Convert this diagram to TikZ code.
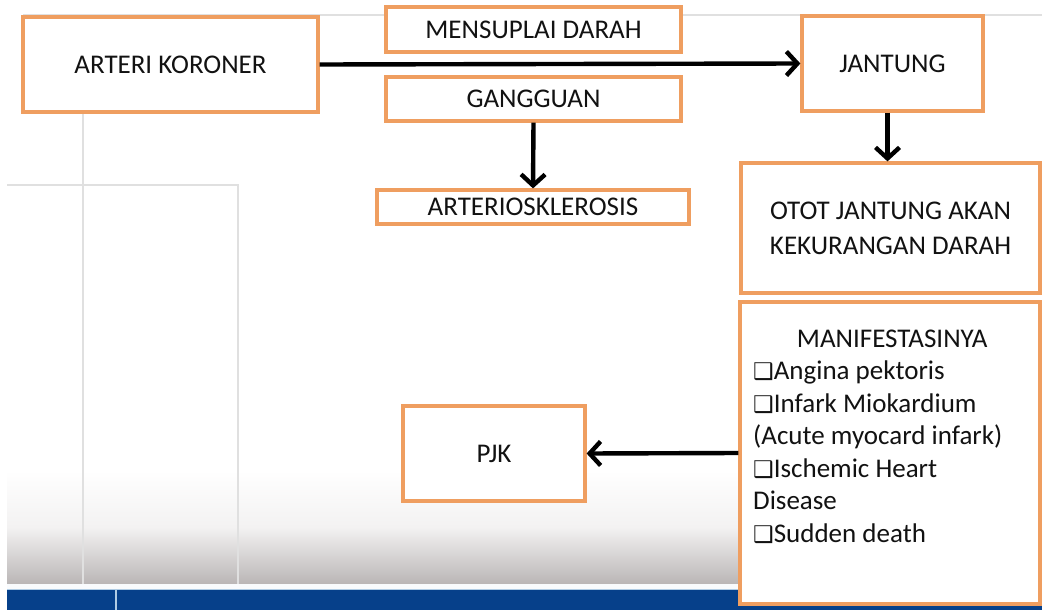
\documentclass[tikz,border=0pt]{standalone}
\usepackage{fontspec}
\setmainfont{Carlito}
\newfontfamily\symfont{DejaVu Sans}
\usetikzlibrary{arrows.meta}
\definecolor{boxorange}{RGB}{239,158,96}
\definecolor{textdark}{RGB}{18,18,18}
\definecolor{bgline}{RGB}{224,224,224}
\definecolor{barblue}{RGB}{6,64,138}
\definecolor{barlight}{RGB}{176,204,228}
\definecolor{shadegray}{RGB}{186,182,182}
\newcommand{\cbx}{{\symfont\fontsize{23}{23}\selectfont ❑}}
\tikzset{
  box/.style={draw=boxorange, line width=3.2pt, fill=white, inner sep=0pt,
    font=\fontsize{27}{35}\selectfont, text=textdark, align=center},
  arr/.style={draw=black, line width=4.4pt, -{Straight Barb[length=11pt,width=24pt]}},
  mtext/.style={font=\fontsize{27}{32.5}\selectfont, text=textdark, inner sep=0pt, anchor=base west},
  bgl/.style={draw=bgline, line width=1.5pt}
}
\begin{document}
\begin{tikzpicture}[x=1pt,y=-1pt]
\useasboundingbox (0,0) rectangle (1042,610);
\fill[white] (0,0) rectangle (1042,610);
% slide background
\shade[top color=white, bottom color=shadegray, middle color={rgb,255:red,243;green,242;blue,242}] (7,470) rectangle (1042,584);
\draw[bgl] (23,15) -- (1042,15);
\draw[bgl] (83,112) -- (83,584);
\draw[bgl] (7,185) -- (238,185) -- (238,584);
\fill[white!92!barlight] (7,584) rectangle (1042,589);
\fill[barlight] (7,588.5) rectangle (1042,590);
\fill[barblue] (7,590) rectangle (1042,610);
\draw[barlight, line width=1.5pt] (116,590) -- (116,610);
% boxes
\node[box, minimum width=295pt, minimum height=95pt] (arteri) at (170.5,64.5) {ARTERI KORONER};
\node[box, minimum width=295pt, minimum height=45pt] (mens) at (533.5,29.5) {MENSUPLAI DARAH};
\node[box, minimum width=295pt, minimum height=44pt] (gang) at (533.5,99) {GANGGUAN};
\node[box, minimum width=312pt, minimum height=34pt] (arterio) at (533,207) {ARTERIOSKLEROSIS};
\node[box, minimum width=181pt, minimum height=95pt] (jantung) at (892.5,63.5) {JANTUNG};
\node[box, minimum width=299pt, minimum height=130pt] (otot) at (890.5,228) {OTOT JANTUNG AKAN\\KEKURANGAN DARAH};
\node[box, minimum width=300pt, minimum height=302pt] (mani) at (890,453) {};
\node[box, minimum width=182pt, minimum height=95pt] (pjk) at (494,453.5) {PJK};
% manifest text
\node[mtext] (m1) at (753,347) {\makebox[278pt][c]{MANIFESTASINYA}};
\node[mtext] (m2) at (753,379.5) {\cbx Angina pektoris};
\node[mtext] (m3) at (753,412) {\cbx Infark Miokardium};
\node[mtext] (m4) at (753,444.5) {(Acute myocard infark)};
\node[mtext] (m5) at (753,477) {\cbx Ischemic Heart};
\node[mtext] (m6) at (753,509.5) {Disease};
\node[mtext] (m7) at (753,542) {\cbx Sudden death};
% connectors
\draw[arr] (arteri.east) -- (jantung.west);
\draw[arr] (gang.south) -- (arterio.north);
\draw[arr] ([xshift=-5pt]jantung.south) -- ([xshift=-5pt]jantung.south |- otot.north);
\draw[arr] (mani.west) -- (pjk.east);
\end{tikzpicture}
\end{document}
